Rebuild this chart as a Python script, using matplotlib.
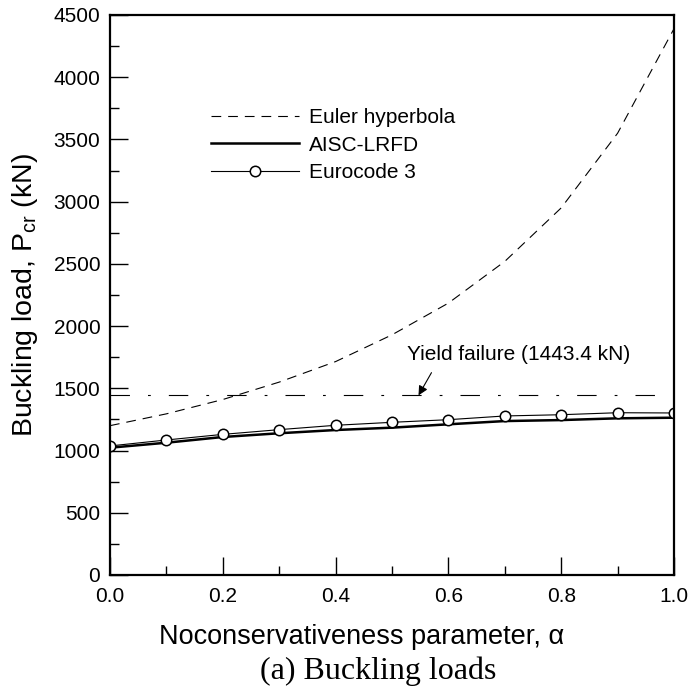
import matplotlib
matplotlib.use("Agg")
import matplotlib.pyplot as plt
from matplotlib.ticker import MultipleLocator

plt.rcParams['font.family'] = ['Liberation Sans', 'DejaVu Sans']
plt.rcParams['lines.scale_dashes'] = False

alpha = [0.0, 0.1, 0.2, 0.3, 0.4, 0.5, 0.6, 0.7, 0.8, 0.9, 1.0]
euler = [1200, 1295, 1410, 1550, 1715, 1930, 2185, 2520, 2950, 3550, 4390]
aisc = [1023, 1063, 1109, 1139, 1165, 1184, 1211, 1237, 1245, 1259, 1264]
eurocode = [1037, 1085, 1130, 1168, 1203, 1227, 1248, 1278, 1288, 1304, 1302]
yield_load = 1443.4

fig = plt.figure(figsize=(6.91, 6.99), dpi=100)
ax = fig.add_axes([110/691, 124/699, 564/691, 560/699])

ax.plot(alpha, euler, color='black', lw=0.8, dashes=(7, 5), label='Euler hyperbola')
ax.plot(alpha, aisc, color='black', lw=1.8, label='AISC-LRFD')
ax.plot(alpha, eurocode, color='black', lw=0.8, marker='o', markersize=7.5,
        markerfacecolor='white', markeredgecolor='black', markeredgewidth=1.1,
        label='Eurocode 3')
ax.plot([0, 1], [yield_load, yield_load], color='black', lw=0.8,
        dashes=(14, 13, 2, 13))

ax.set_xlim(0, 1)
ax.set_ylim(0, 4500)
ax.xaxis.set_major_locator(MultipleLocator(0.2))
ax.xaxis.set_minor_locator(MultipleLocator(0.1))
ax.yaxis.set_major_locator(MultipleLocator(500))
ax.yaxis.set_minor_locator(MultipleLocator(250))
ax.xaxis.set_major_formatter(plt.FuncFormatter(lambda v, p: f"{v:.1f}"))
ax.tick_params(which='both', direction='in', top=False, right=False, width=1.0)
ax.tick_params(which='major', length=13, labelsize=15)
ax.tick_params(axis='x', which='major', pad=9)
ax.tick_params(axis='y', which='major', pad=7)
ax.tick_params(which='minor', length=6.5)
for s in ax.spines.values():
    s.set_linewidth(1.6)

leg = ax.legend(loc='upper left', bbox_to_anchor=((211-110)/564, (575-108)/560),
                frameon=False, fontsize=15, handlelength=4.2, handletextpad=0.5,
                labelspacing=0.42, borderpad=0, borderaxespad=0)

ax.text(0.527, 1768, 'Yield failure (1443.4 kN)', fontsize=15, va='center', ha='left')
ax.annotate('', xy=(0.547, yield_load), xytext=(0.570, 1626),
            arrowprops=dict(arrowstyle='-|>', color='black', lw=0.8,
                            mutation_scale=14, shrinkA=0, shrinkB=0))

fig.text(25/691, 1 - 295/699, 'Buckling load, P$_{\\mathregular{cr}}$ (kN)',
         rotation=90, ha='center', va='center', fontsize=20.5)
fig.text(362/691, 1 - 637/699, 'Noconservativeness parameter, α',
         ha='center', va='center', fontsize=19.5)
fig.text(378/691, 1 - 671/699, '(a) Buckling loads', ha='center', va='center',
         fontsize=23, family=['Liberation Serif', 'DejaVu Serif'])

fig.savefig('out.png', dpi=100)
